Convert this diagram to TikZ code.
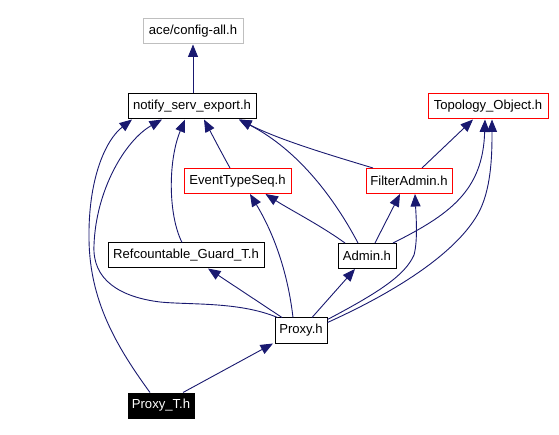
\documentclass[tikz,border=0pt]{standalone}
\usepackage{fontspec}
\setmainfont{Liberation Sans}
\usetikzlibrary{arrows.meta}
\definecolor{edgeblue}{HTML}{191970}
\definecolor{boxgray}{HTML}{BFBFBF}
\begin{document}
\begin{tikzpicture}[x=1pt,y=-1pt,
 box/.style={draw=black,line width=1pt,fill=white,inner sep=0pt,minimum height=25pt,font=\fontsize{13.1}{15}\selectfont},
 redbox/.style={box,draw=red},
 graybox/.style={box,draw=boxgray},
 darkbox/.style={box,fill=black,text=white},
 dep/.style={draw=edgeblue,line width=0.9pt,-{Triangle[length=12.5pt,width=10pt]}}]
\useasboundingbox[fill=white] (0,0) rectangle (559,435);
\node[graybox,minimum width=100pt] (ace) at (193,31.5) {ace/config-all.h};
\node[box,minimum width=128pt] (notify) at (192,106.5) {notify\_serv\_export.h};
\node[redbox,minimum width=120pt] (topo) at (488,106.5) {Topology\_Object.h};
\node[redbox,minimum width=107pt] (ets) at (237.5,181) {EventTypeSeq.h};
\node[redbox,minimum width=86pt] (fa) at (409,181) {FilterAdmin.h};
\node[box,minimum width=156pt] (ref) at (186,255.5) {Refcountable\_Guard\_T.h};
\node[box,minimum width=58pt] (admin) at (367,256) {Admin.h};
\node[box,minimum width=52pt] (proxy) at (301,330.5) {Proxy.h};
\node[darkbox,minimum width=66pt] (proxyt) at (161,405.5) {Proxy\_T.h};
% edges
\draw[dep] ([xshift=1pt]notify.north) -- (ace.south);
\draw[dep] ([xshift=-7.5pt]ets.north) .. controls +(-10,-18) and +(8,15) .. ([xshift=12pt]notify.south);
\draw[dep] ([xshift=-36pt]fa.north) .. controls +(-43,-13) and +(42,21) .. ([xshift=47pt]notify.south);
\draw[dep] ([xshift=-9pt]admin.north) .. controls +(-23,-43.5) and +(60,31) .. ([xshift=47pt]notify.south);
\draw[dep] ([xshift=-22pt]admin.north) .. controls +(-25,-18) and +(25,16) .. ([xshift=28pt]ets.south);
\draw[dep] ([xshift=8pt]admin.north) -- ([xshift=-9pt]fa.south);
\draw[dep] ([xshift=26pt]admin.north) .. controls +(57,-28.5) and +(-2,71) .. ([xshift=-3pt]topo.south);
\draw[dep] ([xshift=13pt]fa.north) -- ([xshift=-15pt]topo.south);
\draw[dep] ([xshift=-4pt]ref.north) .. controls +(-14,-28) and +(-17,41) .. ([xshift=-7pt]notify.south);
\draw[dep] ([xshift=-19pt]proxy.north) -- ([xshift=22pt]ref.south);
\draw[dep] ([xshift=11pt]proxy.north) -- ([xshift=-12pt]admin.south);
\draw[dep] ([xshift=-8pt]proxy.north) .. controls +(-5,-43) and +(25,41.5) .. ([xshift=12.5pt]ets.south);
\draw[dep] ([yshift=-2pt]proxy.north east) .. controls +(53,-28) and +(-9,20) .. (414,255) .. controls +(4,-15) and +(1,21.5) .. ([xshift=6pt]fa.south);
\draw[dep] ([yshift=-5pt]proxy.north east) .. controls +(73,-33) and +(-20,40) .. (480,210) .. controls +(12,-25) and +(0,31) .. ([xshift=4pt]topo.south);
\draw[dep] ([xshift=3pt]proxy.north west) .. controls +(-38,-16) and +(30,3) .. (160,302) .. controls +(-40,-5) and +(-2,35) .. (94,245) .. controls +(2,-55) and +(-37,21) .. ([xshift=-30pt]notify.south);
\draw[dep] ([xshift=-11pt]proxyt.north) .. controls +(-35,-48) and +(1,60) .. (89,240) .. controls +(-1,-60) and +(-27,21) .. ([xshift=-60pt]notify.south);
\draw[dep] ([xshift=22pt]proxyt.north) -- ([xshift=-28pt]proxy.south);
\end{tikzpicture}
\end{document}
